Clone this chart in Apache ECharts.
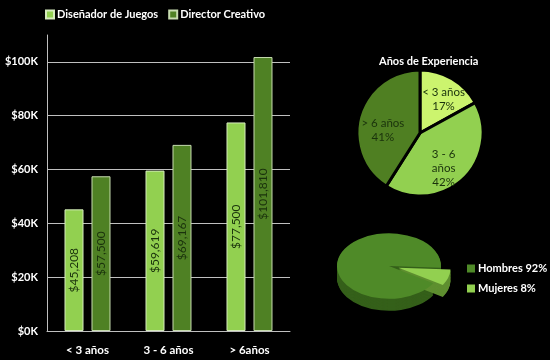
<!DOCTYPE html>
<html><head><meta charset="utf-8">
<script src="https://cdn.jsdelivr.net/npm/echarts@6/dist/echarts.min.js"></script>
<style>html,body{margin:0;padding:0;background:#000;}#c{width:550px;height:360px;}</style>
</head><body><div id="c"></div>
<script>
const salaryCategories = ['< 3 años', '3 - 6 años', '> 6años'];
const seriesNames = ['Diseñador de Juegos', 'Director Creativo'];
const designerSalary = [45208, 59619, 77500];
const directorSalary = [57500, 69167, 101810];
const experienceLabels = ['< 3 años', '3 - 6 años', '> 6 años'];
const experienceShares = [17, 42, 41];
const genderLabels = ['Hombres', 'Mujeres'];
const genderShares = [92, 8];

const FONT = 'Lato';
const LIGHT = '#92d050';
const DARK = '#4f8124';
const expLabelNudge = [[6, -4], [0, 10], [-4, 7]];

const pie3d = {cx: 389, cy: 266, r: 52, squash: 0.63, depth: 12, base: 0.05};
const genderTop = ['#4f8a28', '#92d050'];
const genderSide = ['#35601a', '#5f8f30'];
const genderExplode = [0, 10];

function sliceAngles(i) {
  const total = genderShares.reduce((a, b) => a + b, 0);
  let before = 0;
  for (let j = genderShares.length - 1; j > i; j--) before += genderShares[j];
  const s = pie3d.base + before / total * Math.PI * 2;
  const e = s + genderShares[i] / total * Math.PI * 2;
  return [s, e];
}
function makeRender(i, part) {
  return function (params, api) {
    const [s, e] = sliceAngles(i);
    const mid = (s + e) / 2;
    const ox = Math.cos(mid) * genderExplode[i];
    const oy = Math.sin(mid) * genderExplode[i] * pie3d.squash;
    const children = [];
    if (part === 'side') {
      const steps = 16;
      for (let k = steps; k >= 1; k--) {
        children.push({type: 'sector', shape: {cx: 0, cy: (pie3d.depth / pie3d.squash) * k / steps, r: pie3d.r, r0: 0, startAngle: s, endAngle: e, clockwise: true},
          style: {fill: genderSide[i]}});
      }
    } else {
      children.push({type: 'sector', shape: {cx: 0, cy: 0, r: pie3d.r, r0: 0, startAngle: s, endAngle: e, clockwise: true},
        style: {fill: api.visual('color')}});
    }
    return {type: 'group', x: pie3d.cx + ox, y: pie3d.cy + oy, scaleY: pie3d.squash, children};
  };
}

const chart = echarts.init(document.getElementById('c'), null, {renderer: 'canvas'});
const barLabel = {
  show: true, position: 'inside', rotate: 90, color: '#1a320c', fontFamily: FONT, fontSize: 12,
  formatter: p => '$' + p.value.toLocaleString('en-US')
};
const expData = experienceLabels.map((n, i) => ({name: n, value: experienceShares[i],
  label: {offset: expLabelNudge[i]}}));
const option = {
  backgroundColor: '#000',
  animation: false,
  title: {text: 'Años de Experiencia', left: 374, top: 51,
    textStyle: {color: '#fff', fontFamily: FONT, fontWeight: 'bold', fontSize: 11}},
  legend: [
    {data: seriesNames, left: 45, top: 9, itemWidth: 8, itemHeight: 8, itemGap: 10, padding: 0, icon: 'rect',
      textStyle: {color: '#fff', fontFamily: FONT, fontWeight: 'bold', fontSize: 11, padding: [0, 0, 0, -2]}},
    {data: genderLabels, left: 467, top: 263, orient: 'vertical', itemWidth: 8, itemHeight: 8, itemGap: 9, padding: 0, icon: 'rect',
      formatter: n => n + ' ' + genderShares[genderLabels.indexOf(n)] + '%',
      textStyle: {color: '#fff', fontFamily: FONT, fontWeight: 'bold', fontSize: 11, padding: [0, 0, 0, -2]}}
  ],
  grid: {left: 47, right: 260, top: 35, bottom: 29},
  xAxis: {type: 'category', data: salaryCategories,
    axisLine: {lineStyle: {color: '#bfbfbf', width: 1}}, axisTick: {show: false},
    axisLabel: {color: '#fff', fontFamily: FONT, fontWeight: 'bold', fontSize: 11.5, margin: 13}},
  yAxis: {type: 'value', min: 0, max: 110000, interval: 20000,
    axisLine: {show: true, lineStyle: {color: '#bfbfbf'}}, axisTick: {show: false},
    splitLine: {lineStyle: {color: ['#bfbfbf', '#bfbfbf', '#bfbfbf', '#bfbfbf', '#bfbfbf', '#bfbfbf', 'rgba(0,0,0,0)']}},
    axisLabel: {color: '#fff', fontFamily: FONT, fontWeight: 'bold', fontSize: 11, margin: 9,
      formatter: v => v > 100000 ? '' : '$' + (v / 1000) + 'K'}},
  series: [
    {name: seriesNames[0], type: 'bar', data: designerSalary, barWidth: 19, barGap: '42%',
      itemStyle: {color: LIGHT, borderColor: '#d6ebbd', borderWidth: 1}, label: barLabel},
    {name: seriesNames[1], type: 'bar', data: directorSalary, barWidth: 19,
      itemStyle: {color: DARK, borderColor: '#c7dcb0', borderWidth: 1}, label: barLabel},
    {type: 'pie', center: [420, 133], radius: 63, startAngle: 90, clockwise: true, silent: true,
      data: expData,
      color: ['#ccf46e', '#92d050', '#4f7f22'],
      itemStyle: {borderColor: '#000', borderWidth: 3},
      label: {show: true, position: 'inside', color: '#1a320c', fontFamily: FONT, fontSize: 11.5, lineHeight: 14,
        formatter: p => (p.dataIndex === 1 ? p.name.replace(' años', '\naños') : p.name) + '\n' + p.percent + '%'},
      labelLine: {show: false}},
    {type: 'custom', name: 'side-h', coordinateSystem: 'none', data: [[genderShares[0]]], z: 2, renderItem: makeRender(0, 'side'), itemStyle: {color: genderSide[0]}},
    {type: 'custom', name: 'side-m', coordinateSystem: 'none', data: [[genderShares[1]]], z: 2, renderItem: makeRender(1, 'side'), itemStyle: {color: genderSide[1]}},
    {type: 'custom', name: genderLabels[0], coordinateSystem: 'none', data: [[genderShares[0]]], z: 3, renderItem: makeRender(0, 'top'), itemStyle: {color: genderTop[0]}},
    {type: 'custom', name: genderLabels[1], coordinateSystem: 'none', data: [[genderShares[1]]], z: 4, renderItem: makeRender(1, 'top'), itemStyle: {color: genderTop[1]}}
  ]
};
chart.setOption(option);
</script></body></html>
